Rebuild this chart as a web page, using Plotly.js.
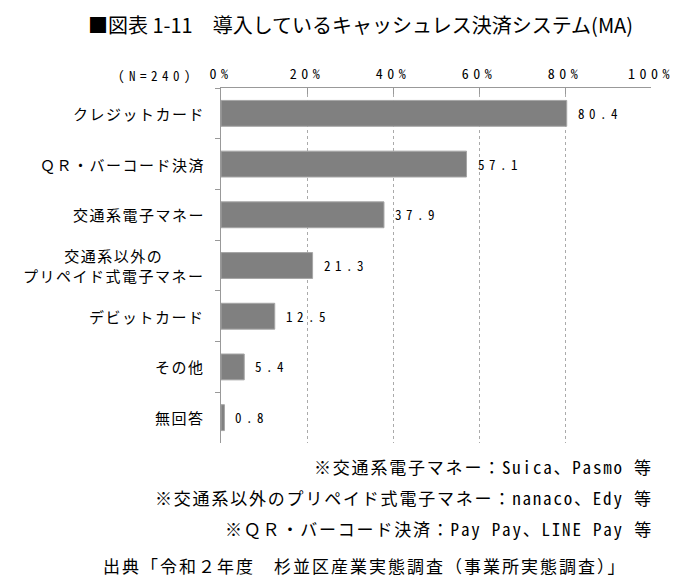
<!DOCTYPE html>
<html><head><meta charset="utf-8">
<script src="https://cdn.plot.ly/plotly-3.0.1.min.js"></script>
<style>body{margin:0;background:#fff}#c{width:674px;height:580px}</style>
</head><body><div id="c"></div>
<script>
const categories = ["クレジットカード","ＱＲ・バーコード決済","交通系電子マネー","交通系以外の<br>プリペイド式電子マネー","デビットカード","その他","無回答"];
const values = [80.4, 57.1, 37.9, 21.3, 12.5, 5.4, 0.8];
const tickVals = [0, 20, 40, 60, 80, 100];
const tickLabels = ["0%","20%","40%","60%","80%","100%"];
const titleText = "■図表 1-11　導入しているキャッシュレス決済システム(MA)";
const sampleLabel = "(N=240)";
const notes = ["※交通系電子マネー：Suica、Pasmo 等","※交通系以外のプリペイド式電子マネー：nanaco、Edy 等","※ＱＲ・バーコード決済：Pay Pay、LINE Pay 等"];
const sourceText = "出典「令和２年度　杉並区産業実態調査（事業所実態調査）」";

const JP = '"Noto Sans Mono CJK JP", "Noto Sans CJK JP", sans-serif';
const ls = (s, px) => s.split('<br>').map(p => '<span style="letter-spacing:' + px + 'px">' + p + '</span>').join('<br>');

const W = 674, H = 580, T = 88, B = 137;
const plotBottom = H - B;

const ann = [];
values.forEach((v, i) => {
  ann.push({x: v, y: categories[i], xref: 'x', yref: 'y', text: ls(v.toFixed(1), 4.5), showarrow: false,
    xanchor: 'left', xshift: 9, font: {family: JP, size: 13, color: '#000'}});
  ann.push({x: 0, y: categories[i], xref: 'paper', yref: 'y', text: ls(categories[i], 1.5), showarrow: false,
    xanchor: 'right', xshift: -14, align: 'center', font: {family: JP, size: 15, color: '#000'}});
});
ann.push({x: 0, y: 1, xref: 'paper', yref: 'paper', xanchor: 'right', yanchor: 'middle', xshift: -24, yshift: 13,
  text: ls(sampleLabel, 4.5), showarrow: false, font: {family: JP, size: 13, color: '#000'}});
const noteY = [466, 497, 528];
notes.forEach((n, i) => {
  ann.push({x: 1, y: 0, xref: 'paper', yref: 'paper', xanchor: 'right', yanchor: 'middle', xshift: 4,
    yshift: -(noteY[i] - plotBottom), text: ls(n, 1.8), showarrow: false, font: {family: JP, size: 17, color: '#000'}});
});
ann.push({x: 0, y: 0, xref: 'paper', yref: 'paper', xanchor: 'left', yanchor: 'middle', xshift: -120,
  yshift: -(565 - plotBottom), text: ls(sourceText, 2), showarrow: false, font: {family: JP, size: 17, color: '#000'}});

const data = [{
  type: 'bar', orientation: 'h', x: values, y: categories,
  marker: {color: '#808080', line: {color: '#a6a6a6', width: 1}},
  hoverinfo: 'none'
}];
const layout = {
  width: W, height: H,
  margin: {l: 221, r: 23, t: T, b: B},
  paper_bgcolor: '#fff', plot_bgcolor: '#fff',
  title: {text: titleText, xref: 'container', x: 88 / W, xanchor: 'left', yref: 'container', y: 1 - 26 / H, yanchor: 'middle',
    font: {family: '"Noto Sans CJK JP", sans-serif', size: 20, color: '#000', weight: 400}},
  bargap: 0.49,
  showlegend: false,
  xaxis: {side: 'top', range: [0, 100], tickvals: tickVals, ticktext: tickLabels.map(t => ls(t, 4.5)),
    tickfont: {family: JP, size: 14, color: '#000'}, showline: true, linecolor: '#999', linewidth: 1,
    ticks: 'inside', ticklen: 6, tickcolor: '#999', showgrid: true, gridcolor: '#aaa', griddash: 'dot', gridwidth: 1,
    zeroline: false, fixedrange: true, ticklabelstandoff: 2, ticklabeloverflow: 'allow'},
  yaxis: {autorange: 'reversed', showticklabels: false, showline: true, linecolor: '#999', linewidth: 1,
    ticks: 'outside', ticklen: 5, tickcolor: '#999', tickson: 'boundaries', showgrid: false, zeroline: false,
    fixedrange: true},
  annotations: ann
};
Plotly.newPlot('c', data, layout, {displayModeBar: false, staticPlot: true});
</script></body></html>
